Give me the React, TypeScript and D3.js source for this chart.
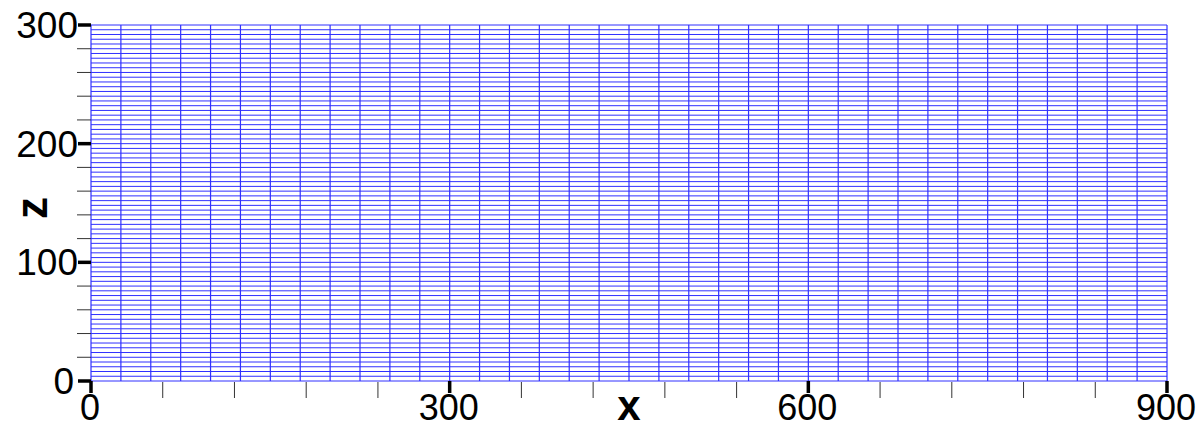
import * as d3 from 'd3';
import { useEffect, useRef } from 'react';

// mesh node coordinates (x every 25, z every 4)
const xNodes = [
    0, 25, 50, 75, 100, 125, 150, 175, 200, 225, 250, 275, 300, 325, 350, 375, 400, 425, 450,
    475, 500, 525, 550, 575, 600, 625, 650, 675, 700, 725, 750, 775, 800, 825, 850, 875, 900,
];
const zNodes = [
    0, 4, 8, 12, 16, 20, 24, 28, 32, 36, 40, 44, 48, 52, 56, 60, 64, 68, 72, 76,
    80, 84, 88, 92, 96, 100, 104, 108, 112, 116, 120, 124, 128, 132, 136, 140, 144, 148, 152, 156,
    160, 164, 168, 172, 176, 180, 184, 188, 192, 196, 200, 204, 208, 212, 216, 220, 224, 228, 232, 236,
    240, 244, 248, 252, 256, 260, 264, 268, 272, 276, 280, 284, 288, 292, 296, 300,
];
const xMajorTicks = [0, 300, 600, 900];
const xMinorTicks = [60, 120, 180, 240, 360, 420, 480, 540, 660, 720, 780, 840];
const zMajorTicks = [0, 100, 200, 300];
const zMinorTicks = [20, 40, 60, 80, 120, 140, 160, 180, 220, 240, 260, 280];

export default function App() {
    const ref = useRef<any>();

    useEffect(() => {
        const dimensions: any = {
            width: 1201,
            height: 428,
            margin: { top: 25, right: 34, bottom: 47, left: 91 },
        };
        dimensions.boundedWidth = dimensions.width - dimensions.margin.left - dimensions.margin.right;
        dimensions.boundedHeight = dimensions.height - dimensions.margin.top - dimensions.margin.bottom;

        const svg = d3.select<any, any>(ref.current)
            .attr('width', dimensions.width)
            .attr('height', dimensions.height);
        svg.selectAll('*').remove();

        const stage = svg.append('g')
            .attr('transform', `translate(${dimensions.margin.left}, ${dimensions.margin.top})`);

        const xScale = d3.scaleLinear().domain([0, 900]).range([0, dimensions.boundedWidth]);
        const zScale = d3.scaleLinear().domain([0, 300]).range([dimensions.boundedHeight, 0]);

        const font = '"Liberation Sans", Arial, sans-serif';

        //mesh
        const mesh = stage.append('g').attr('class', 'mesh');
        mesh.selectAll('.hline').data(zNodes).join('line')
            .attr('class', 'hline')
            .attr('x1', xScale(0))
            .attr('x2', xScale(900))
            .attr('y1', d => zScale(d))
            .attr('y2', d => zScale(d))
            .attr('stroke', '#3030ff')
            .attr('stroke-width', 1);
        mesh.selectAll('.vline').data(xNodes).join('line')
            .attr('class', 'vline')
            .attr('x1', d => xScale(d))
            .attr('x2', d => xScale(d))
            .attr('y1', zScale(0))
            .attr('y2', zScale(300))
            .attr('stroke', '#3030ff')
            .attr('stroke-width', 1.2);

        //x axis ticks
        const xAxis = stage.append('g').attr('class', 'x-axis')
            .attr('transform', `translate(0, ${dimensions.boundedHeight})`);
        xAxis.selectAll('.minor').data(xMinorTicks).join('line')
            .attr('class', 'minor')
            .attr('x1', d => xScale(d)).attr('x2', d => xScale(d))
            .attr('y1', 1).attr('y2', 17)
            .attr('stroke', '#333').attr('stroke-width', 1);
        xAxis.selectAll('.major').data(xMajorTicks).join('line')
            .attr('class', 'major')
            .attr('x1', d => xScale(d)).attr('x2', d => xScale(d))
            .attr('y1', 0).attr('y2', 12)
            .attr('stroke', '#000').attr('stroke-width', 3.5);
        xAxis.selectAll('.label').data(xMajorTicks).join('text')
            .attr('class', 'label')
            .attr('x', d => xScale(d) - 1)
            .attr('y', 39)
            .attr('text-anchor', 'middle')
            .style('font-family', font)
            .style('font-size', '36px')
            .text(d => d);

        //z axis ticks
        const zAxis = stage.append('g').attr('class', 'z-axis');
        zAxis.selectAll('.minor').data(zMinorTicks).join('line')
            .attr('class', 'minor')
            .attr('x1', -14).attr('x2', 0)
            .attr('y1', d => zScale(d)).attr('y2', d => zScale(d))
            .attr('stroke', '#333').attr('stroke-width', 1);
        zAxis.selectAll('.major').data(zMajorTicks).join('line')
            .attr('class', 'major')
            .attr('x1', -13).attr('x2', 0)
            .attr('y1', d => zScale(d)).attr('y2', d => zScale(d))
            .attr('stroke', '#000').attr('stroke-width', 3.5);
        zAxis.selectAll('.label').data(zMajorTicks).join('text')
            .attr('class', 'label')
            .attr('x', d => d === 0 ? -17 : -13)
            .attr('y', d => zScale(d) + 13)
            .attr('text-anchor', 'end')
            .style('font-family', font)
            .style('font-size', '37px')
            .text(d => d);

        //axis titles
        svg.append('text')
            .attr('x', xScale(450) + dimensions.margin.left)
            .attr('y', 420)
            .attr('text-anchor', 'middle')
            .style('font-family', font)
            .style('font-weight', 'bold')
            .style('font-size', '42px')
            .text('x');
        svg.append('text')
            .attr('transform', `translate(47, 208) rotate(-90)`)
            .attr('text-anchor', 'middle')
            .style('font-family', font)
            .style('font-weight', 'bold')
            .style('font-size', '44px')
            .text('z');
    }, []);

    return (
        <svg ref={ref} style={{ position: 'absolute', left: 0, top: 0, display: 'block', background: '#fff' }}></svg>
    );
}
